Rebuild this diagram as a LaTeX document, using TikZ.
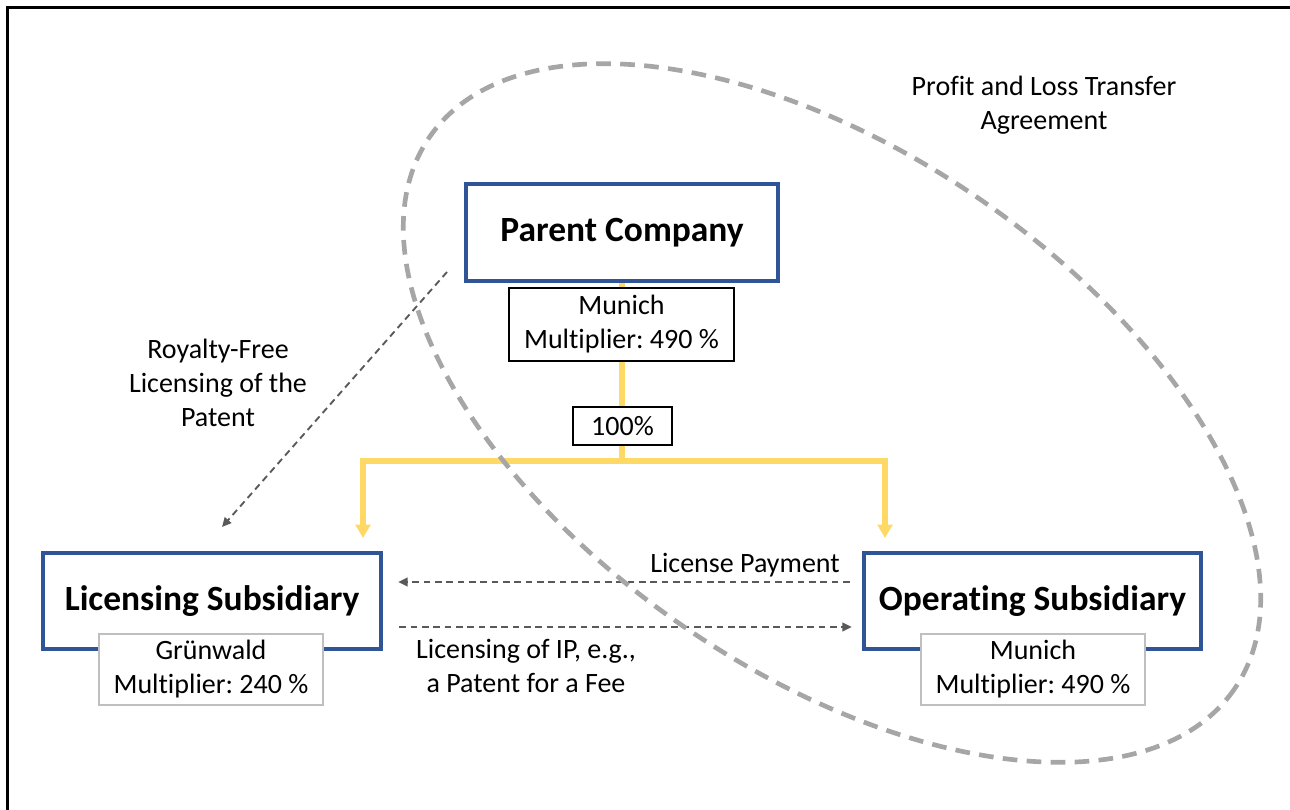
\documentclass[tikz,border=0pt]{standalone}
\usepackage{fontspec}
\setmainfont{Carlito}[Ligatures=NoCommon, RawFeature=-liga]
\usetikzlibrary{arrows.meta}

\definecolor{boxblue}{HTML}{2F5597}
\definecolor{linkyellow}{HTML}{FFD966}
\definecolor{arrowgray}{HTML}{595959}
\definecolor{ringgray}{HTML}{A6A6A6}
\definecolor{tagframe}{HTML}{BFBFBF}

\newcommand{\normaltext}{\fontsize{21}{25.5}\selectfont}
\frenchspacing

\begin{document}
\begin{tikzpicture}[x=0.75pt, y=-0.75pt,
  entity/.style={draw=boxblue, line width=3.5pt, fill=white, inner sep=0pt,
    font=\fontsize{26.6}{31}\selectfont\bfseries},
  seatbox/.style={draw=black, line width=1pt, fill=white, inner sep=0pt,
    align=center, font=\normaltext},
  seattag/.style={draw=tagframe, line width=0.8pt, fill=white, inner sep=0pt,
    align=center, font=\normaltext},
  plain/.style={align=center, font=\normaltext, inner sep=0pt},
  ownership/.style={draw=linkyellow, line width=3.8pt},
  ownarrow/.style={ownership, -{Triangle[length=10pt,width=11pt]}},
  flow/.style={draw=arrowgray, line width=1.4pt, dash pattern=on 5pt off 3.5pt,
    -{Triangle[length=7pt,width=6.5pt]}},
  ptla/.style={draw=ringgray, line width=3.5pt, dash pattern=on 11pt off 7pt}]

  \useasboundingbox (0,0) rectangle (1290,810);
  \draw[line width=2.25pt] (1290,7) -- (7,7) -- (7,810);

  % companies
  \node[entity, minimum width=234pt, minimum height=72.75pt] (parent) at (622,232.5) {Parent Company};
  \node[entity, minimum width=253.5pt, minimum height=72pt] (licsub) at (212,601) {Licensing Subsidiary};
  \node[entity, minimum width=252.75pt, minimum height=72pt] (opsub) at (1032.5,601) {Operating Subsidiary};

  % ownership
  \coordinate (hub) at (622,461);
  \coordinate (licin) at (363,538);
  \coordinate (opin) at (885,538);
  \draw[ownership] (parent.south) -- (hub);
  \draw[ownarrow] (hub) -| (licin);
  \draw[ownarrow] (hub) -| (opin);

  \node[seatbox, minimum width=168.75pt, minimum height=54.75pt] (parentseat) at (621.5,324.5) {Munich\\Multiplier: 490 \%};
  \node[seatbox, minimum width=74.25pt, minimum height=28.5pt] (share) at (622.5,426) {100\%};

  \node[seattag, minimum width=168pt, minimum height=53.25pt] (licseat) at (211,669.5) {Grünwald\\Multiplier: 240 \%};
  \node[seattag, minimum width=168pt, minimum height=53.25pt] (opseat) at (1033,669.5) {Munich\\Multiplier: 490 \%};

  % licensing flows
  \coordinate (rfstart) at (447,272);
  \coordinate (rfend) at (222,527);
  \draw[flow] (rfstart) -- (rfend);
  \node[plain] (rflabel) at (218,383) {Royalty-Free\\Licensing of the\\Patent};

  \draw[flow] ([shift={(-12,-19)}]opsub.west) -- ([shift={(15,-19)}]licsub.east);
  \draw[flow] ([shift={(16,26)}]licsub.east) -- ([shift={(-10,26)}]opsub.west);
  \node[plain, anchor=base east] (paylabel) at (840,572) {License Payment};
  \node[plain] (iplabel) at (526,666) {Licensing of IP, e.g.,\\a Patent for a Fee};

  % profit and loss transfer agreement
  \draw[ptla, rotate around={-34.4:(832,413)}] (832,413) ellipse [x radius=488, y radius=260];
  \node[plain] (ptlalabel) at (1044,105) {Profit and Loss Transfer\\Agreement};
\end{tikzpicture}
\end{document}
